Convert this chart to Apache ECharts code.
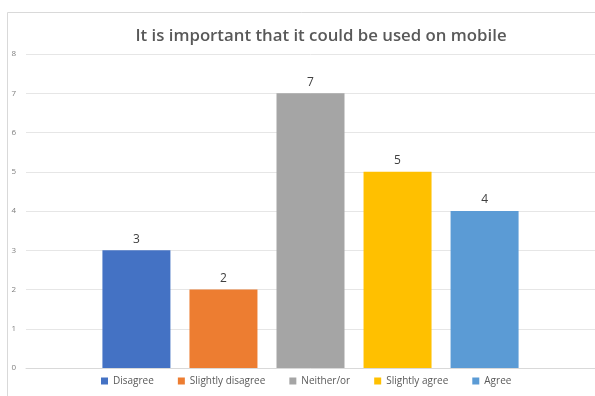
<!DOCTYPE html>
<html>
<head>
<meta charset="utf-8">
<script src="https://cdn.jsdelivr.net/npm/echarts@6/dist/echarts.min.js"></script>
<style>
  html, body { margin: 0; padding: 0; background: #fff; }
  #chart { width: 595px; height: 396px; }
</style>
</head>
<body>
<div id="chart"></div>
<script>
// one category, five answers -> five series like the Excel chart
const answers = ['Disagree', 'Slightly disagree', 'Neither/or', 'Slightly agree', 'Agree'];
const counts = [3, 2, 7, 5, 4];
const colors = ['#4472C4', '#ED7D31', '#A5A5A5', '#FFC000', '#5B9BD5'];
const yTicks = { min: 0, max: 8, interval: 1 };

const chart = echarts.init(document.getElementById('chart'));

const series = answers.map((name, i) => ({
    name: name,
    type: 'bar',
    data: [counts[i]],
    barWidth: 68,
    barGap: '28%',
    itemStyle: { color: colors[i] },
    label: {
        show: true,
        position: 'top',
        distance: 5,
        color: '#404040',
        fontSize: 12,
        fontFamily: 'Open Sans'
    }
}));

chart.setOption({
    animation: false,
    backgroundColor: '#fff',
    title: {
        text: 'It is important that it could be used on mobile',
        left: 316,
        textAlign: 'center',
        top: 23,
        textStyle: {
            color: '#595959',
            fontSize: 16.8,
            fontWeight: 600,
            fontFamily: 'Open Sans'
        }
    },
    graphic: [{
        type: 'rect',
        shape: { x: 7.5, y: 12.5, width: 600, height: 400 },
        style: { fill: 'none', stroke: '#d9d9d9', lineWidth: 1 },
        silent: true
    }],
    legend: {
        data: answers,
        bottom: 5,
        left: 96,
        icon: 'rect',
        itemWidth: 7,
        itemHeight: 7,
        itemGap: 24,
        textStyle: { color: '#595959', fontSize: 10, fontFamily: 'Open Sans' }
    },
    grid: { left: 26, right: 0, top: 54, bottom: 28 },
    xAxis: {
        type: 'category',
        data: [''],
        axisLine: { lineStyle: { color: '#d9d9d9' } },
        axisTick: { show: false },
        axisLabel: { show: false }
    },
    yAxis: {
        type: 'value',
        min: yTicks.min,
        max: yTicks.max,
        interval: yTicks.interval,
        axisLine: { show: false },
        axisTick: { show: false },
        axisLabel: { color: '#7f7f7f', fontSize: 8, margin: 10, fontFamily: 'Open Sans' },
        splitLine: { lineStyle: { color: '#e6e6e6' } }
    },
    series: series
});
</script>
</body>
</html>
